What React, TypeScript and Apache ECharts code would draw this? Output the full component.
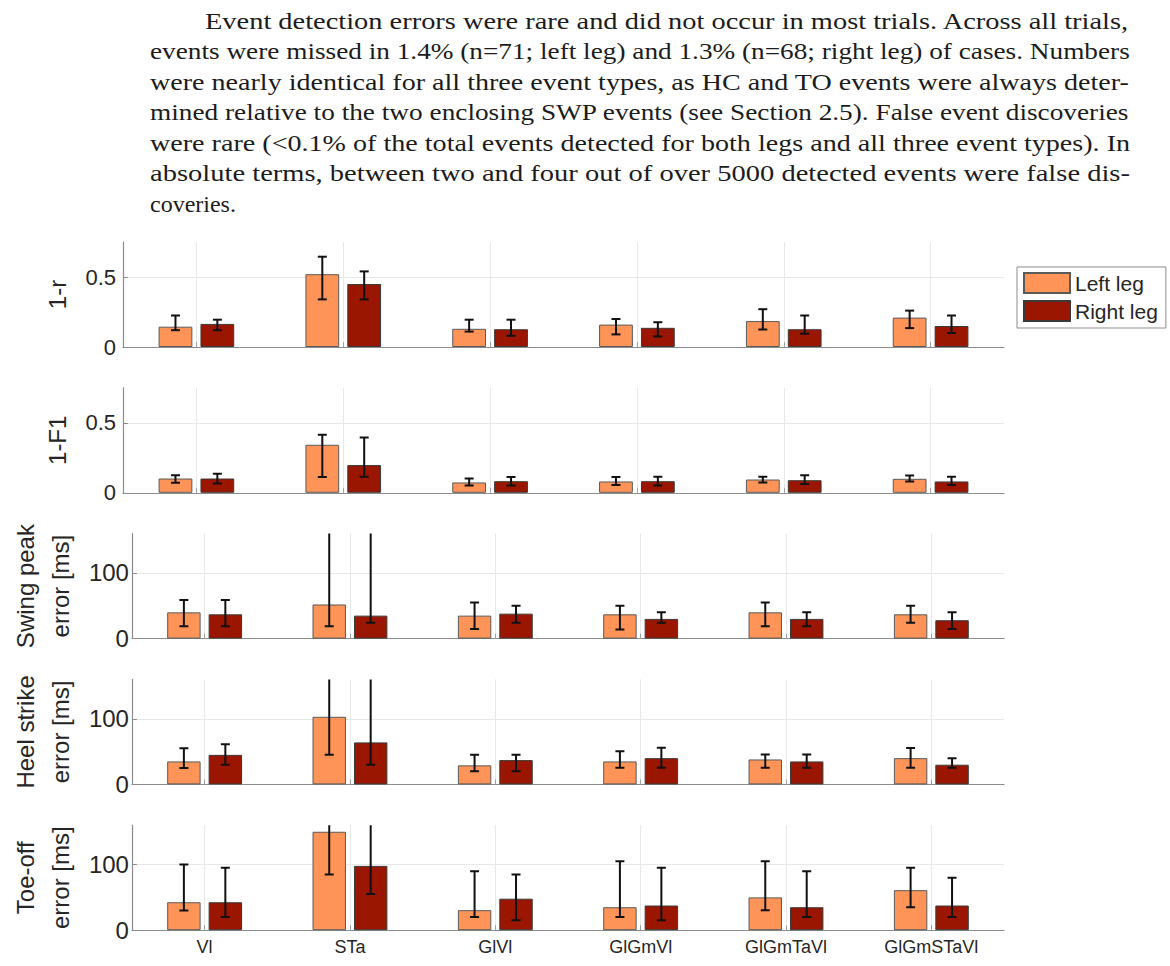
import React, { useEffect, useRef } from "react";
import * as echarts from "echarts";

// ---------- DATA ----------
const categories = ["Vl", "STa", "GlVl", "GlGmVl", "GlGmTaVl", "GlGmSTaVl"];
const legendNames = ["Left leg", "Right leg"];

// Panel 1: 1-r
const r_left = [0.145, 0.52, 0.13, 0.16, 0.185, 0.21];
const r_left_lo = [0.12, 0.34, 0.11, 0.09, 0.125, 0.135];
const r_left_hi = [0.225, 0.645, 0.195, 0.2, 0.27, 0.26];
const r_right = [0.165, 0.45, 0.127, 0.137, 0.127, 0.15];
const r_right_lo = [0.12, 0.34, 0.08, 0.075, 0.095, 0.1];
const r_right_hi = [0.195, 0.54, 0.195, 0.177, 0.225, 0.225];

// Panel 2: 1-F1
const f1_left = [0.102, 0.343, 0.074, 0.081, 0.095, 0.1];
const f1_left_lo = [0.071, 0.112, 0.052, 0.055, 0.074, 0.081];
const f1_left_hi = [0.126, 0.414, 0.102, 0.112, 0.114, 0.124];
const f1_right = [0.102, 0.198, 0.083, 0.083, 0.09, 0.081];
const f1_right_lo = [0.067, 0.114, 0.052, 0.052, 0.062, 0.055];
const f1_right_hi = [0.136, 0.395, 0.112, 0.114, 0.126, 0.114];

// Panel 3: Swing peak error [ms]
const swp_left = [40, 52, 35, 37, 40, 37];
const swp_left_lo = [19, 19, 14.5, 14, 19, 24];
const swp_left_hi = [59, 200, 55, 50, 55, 50];
const swp_right = [37, 35, 38, 30, 30, 28];
const swp_right_lo = [19, 24, 24, 24, 19, 14.5];
const swp_right_hi = [59, 200, 50, 40, 40, 40];

// Panel 4: Heel strike error [ms]
const hs_left = [35, 103, 29, 35, 38, 40];
const hs_left_lo = [25, 45, 20, 25.5, 25.5, 25.5];
const hs_left_hi = [55, 200, 45, 50.5, 45.5, 55.5];
const hs_right = [45, 64, 37, 40, 35, 30];
const hs_right_lo = [30, 30, 20, 25.5, 25.5, 25.5];
const hs_right_hi = [61, 200, 45, 56, 45.5, 40];

// Panel 5: Toe-off error [ms]
const to_left = [42.6, 150, 30.5, 35, 50, 61];
const to_left_lo = [30, 85, 20, 20, 30.5, 35];
const to_left_hi = [100, 200, 90, 105, 105, 95];
const to_right = [42.6, 98, 48, 37.6, 35, 37.6];
const to_right_lo = [20, 55, 15, 15, 20, 20];
const to_right_hi = [95, 200, 85, 95, 90, 80];

const yNames = ["1-r", "1-F1", "Swing peak\nerror [ms]", "Heel strike\nerror [ms]", "Toe-off\nerror [ms]"];
const yMax = [0.75, 0.75, 160, 160, 160];
const yInterval = [0.5, 0.5, 100, 100, 100];

const paragraphLines = [
  "Event detection errors were rare and did not occur in most trials. Across all trials,",
  "events were missed in 1.4% (n=71; left leg) and 1.3% (n=68; right leg) of cases. Numbers",
  "were nearly identical for all three event types, as HC and TO events were always deter-",
  "mined relative to the two enclosing SWP events (see Section 2.5). False event discoveries",
  "were rare (<0.1% of the total events detected for both legs and all three event types). In",
  "absolute terms, between two and four out of over 5000 detected events were false dis-",
  "coveries.",
];

// ---------- STYLE ----------
const LEFT_COLOR = "#FE9458";
const RIGHT_COLOR = "#9A1600";
const BAR_FRAC = 0.23;
const GAP_FRAC = 0.24;
const SANS = "Liberation Sans, Arial, sans-serif";
const SERIF = "Liberation Serif, Times New Roman, serif";
const PARA_FONT_SIZE = 24;

function makeErrRender(sign: number) {
  return (params: any, api: any) => {
    const idx = api.value(0);
    const lo = api.value(1);
    const hi = api.value(2);
    const band = api.size([1, 0])[0];
    const off = (sign * band * BAR_FRAC * (1 + GAP_FRAC)) / 2;
    const pl = api.coord([idx, lo]);
    const ph = api.coord([idx, hi]);
    const x = pl[0] + off;
    const c = 4.5;
    const st = { stroke: "#111111", lineWidth: 2 };
    return {
      type: "group",
      children: [
        { type: "line", shape: { x1: x, y1: pl[1], x2: x, y2: ph[1] }, style: st },
        { type: "line", shape: { x1: x - c, y1: pl[1], x2: x + c, y2: pl[1] }, style: st },
        { type: "line", shape: { x1: x - c, y1: ph[1], x2: x + c, y2: ph[1] }, style: st },
      ],
    };
  };
}

export default function App() {
  const ref = useRef<HTMLDivElement>(null);

  useEffect(() => {
    if (!ref.current) return;
    const chart = echarts.init(ref.current, undefined, { renderer: "svg" });

    const panels = [
      { l: r_left, ll: r_left_lo, lh: r_left_hi, r: r_right, rl: r_right_lo, rh: r_right_hi },
      { l: f1_left, ll: f1_left_lo, lh: f1_left_hi, r: f1_right, rl: f1_right_lo, rh: f1_right_hi },
      { l: swp_left, ll: swp_left_lo, lh: swp_left_hi, r: swp_right, rl: swp_right_lo, rh: swp_right_hi },
      { l: hs_left, ll: hs_left_lo, lh: hs_left_hi, r: hs_right, rl: hs_right_lo, rh: hs_right_hi },
      { l: to_left, ll: to_left_lo, lh: to_left_hi, r: to_right, rl: to_right_lo, rh: to_right_hi },
    ];

    const PLOT_LEFT = 123;
    const PLOT_WIDTH = 881;
    const TOP0 = 242;
    const STEP = 145.8;
    const H = 105;

    const grid = panels.map((_, i) => ({
      left: PLOT_LEFT,
      width: PLOT_WIDTH,
      top: TOP0 + STEP * i,
      height: H,
      containLabel: false,
    }));

    const xAxis = panels.map((_, i) => ({
      type: "category",
      gridIndex: i,
      data: categories,
      boundaryGap: true,
      axisLine: { show: true, lineStyle: { color: "#8c8c8c", width: 1.2 } },
      axisTick: { show: true, alignWithLabel: true, inside: true, length: 5, lineStyle: { color: "#a0a0a0" } },
      axisLabel: {
        show: i === panels.length - 1,
        fontSize: 18,
        fontFamily: SANS,
        color: "#262626",
        margin: 8,
      },
      splitLine: { show: true, alignWithLabel: true, lineStyle: { color: "#e8e8e8", width: 1 } },
    }));

    const yAxis = panels.map((_, i) => {
      const ms = i >= 2;
      return {
        type: "value",
        gridIndex: i,
        min: 0,
        max: yMax[i],
        interval: yInterval[i],
        name: yNames[i],
        nameLocation: "middle",
        nameRotate: 90,
        nameGap: 45,
        nameTextStyle: { fontSize: 24, fontFamily: SANS, color: "#262626", lineHeight: 35 },
        axisLine: { show: true, lineStyle: { color: "#8c8c8c", width: 1.2 } },
        axisTick: { show: true, inside: true, length: 5, lineStyle: { color: "#8c8c8c" } },
        axisLabel: {
          fontSize: ms ? 24 : 22,
          fontFamily: SANS,
          color: "#262626",
          margin: ms ? 3 : 7,
          showMaxLabel: false,
        },
        splitLine: { show: true, showMaxLine: false, showMinLine: false, lineStyle: { color: "#e8e8e8", width: 1 } },
      };
    });

    const series: any[] = [];
    panels.forEach((p, i) => {
      series.push({
        name: legendNames[0],
        type: "bar",
        xAxisIndex: i,
        yAxisIndex: i,
        data: p.l,
        barWidth: `${BAR_FRAC * 100}%`,
        barGap: `${GAP_FRAC * 100}%`,
        itemStyle: { color: LEFT_COLOR, borderColor: "#5a5a5a", borderWidth: 1 },
        z: 2,
      });
      series.push({
        name: legendNames[1],
        type: "bar",
        xAxisIndex: i,
        yAxisIndex: i,
        data: p.r,
        barWidth: `${BAR_FRAC * 100}%`,
        barGap: `${GAP_FRAC * 100}%`,
        itemStyle: { color: RIGHT_COLOR, borderColor: "#3a3a3a", borderWidth: 1 },
        z: 2,
      });
      series.push({
        type: "custom",
        xAxisIndex: i,
        yAxisIndex: i,
        clip: true,
        z: 5,
        renderItem: makeErrRender(-1),
        encode: { x: 0, y: [1, 2] },
        data: categories.map((_, k) => [k, p.ll[k], p.lh[k]]),
      });
      series.push({
        type: "custom",
        xAxisIndex: i,
        yAxisIndex: i,
        clip: true,
        z: 5,
        renderItem: makeErrRender(1),
        encode: { x: 0, y: [1, 2] },
        data: categories.map((_, k) => [k, p.rl[k], p.rh[k]]),
      });
    });

    // paragraph: each line stretched to the justified width
    const canvas = document.createElement("canvas");
    const ctx = canvas.getContext("2d");
    const fontStr = `${PARA_FONT_SIZE}px ${SERIF}`;
    if (ctx) ctx.font = fontStr;
    const textLeft = 150;
    const textRight = 1130;
    const indent = 55;
    const graphics = paragraphLines.map((line, i) => {
      const x = i === 0 ? textLeft + indent : textLeft;
      const isLast = i === paragraphLines.length - 1;
      const w = ctx ? ctx.measureText(line).width : 900;
      const scaleX = isLast ? 1 : (textRight - x) / w;
      return {
        type: "text",
        x,
        y: 21 + 30.5 * i,
        scaleX,
        style: {
          text: line,
          fontSize: PARA_FONT_SIZE,
          fontFamily: SERIF,
          fill: "#1c1c1c",
          verticalAlign: "middle",
          align: "left",
        },
      };
    });

    chart.setOption({
      animation: false,
      backgroundColor: "#ffffff",
      grid,
      xAxis,
      yAxis,
      series,
      legend: {
        data: legendNames,
        orient: "vertical",
        left: 1017,
        top: 267,
        icon: "rect",
        itemWidth: 46,
        itemHeight: 20,
        itemGap: 6,
        padding: [5, 8, 6, 6],
        borderColor: "#8c8c8c",
        borderWidth: 1,
        backgroundColor: "#ffffff",
        textStyle: { fontSize: 21, fontFamily: SANS, color: "#262626" },
      },
      graphic: graphics,
    });

    return () => {
      chart.dispose();
    };
  }, []);

  return (
    <div
      ref={ref}
      style={{ position: "absolute", left: 0, top: 0, width: 1170, height: 966, background: "#fff" }}
    />
  );
}
